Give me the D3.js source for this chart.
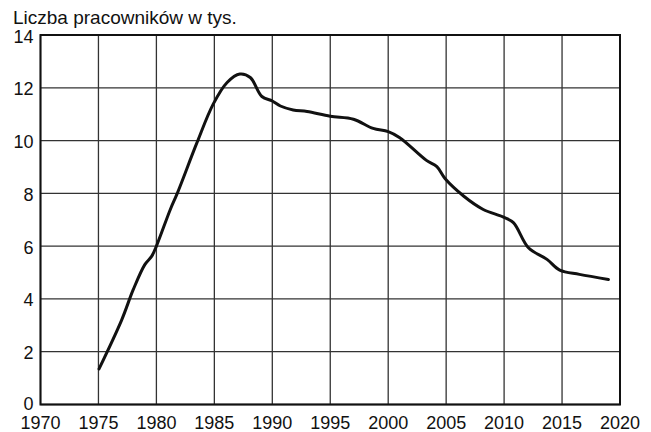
<!DOCTYPE html>
<html>
<head>
<meta charset="utf-8">
<script src="https://cdn.jsdelivr.net/npm/d3@7"></script>
<style>
  body { margin: 0; background: #fff; }
  text { font-family: "Liberation Sans", Arial, sans-serif; fill: #111; }
</style>
</head>
<body>
<svg id="chart" width="651" height="432"></svg>
<script>
var years = [1975.05, 1977, 1978, 1979, 1979.6, 1980, 1981.2, 1981.8, 1983.5, 1984.9, 1986.1, 1987.2, 1988.1, 1989.1, 1990, 1990.7, 1991.8, 1993, 1995, 1997, 1998.7, 2000, 2001, 2003.3, 2004.2, 2004.9, 2006.5, 2008.2, 2009.9, 2010.8, 2012.1, 2013.7, 2014.8, 2016.5, 2019];
var workers = [1.35, 3.2, 4.35, 5.3, 5.62, 6.0, 7.39, 8.0, 9.92, 11.38, 12.2, 12.52, 12.39, 11.67, 11.5, 11.31, 11.16, 11.1, 10.92, 10.81, 10.46, 10.34, 10.11, 9.25, 9.01, 8.56, 7.9, 7.39, 7.11, 6.89, 5.94, 5.5, 5.09, 4.93, 4.74];
var xTicks = [1970, 1975, 1980, 1985, 1990, 1995, 2000, 2005, 2010, 2015, 2020];
var yTicks = [0, 2, 4, 6, 8, 10, 12, 14];
var title = "Liczba pracowników w tys.";

var svg = d3.select("#chart"),
    margin = {left: 40.5, right: 31, top: 35, bottom: 27.5},
    width = 651 - margin.left - margin.right,
    height = 432 - margin.top - margin.bottom,
    g = svg.append("g").attr("transform", "translate(" + margin.left + "," + margin.top + ")");

var x = d3.scaleLinear().domain([1970, 2020]).range([0, width]);
var y = d3.scaleLinear().domain([0, 14]).range([height, 0]);

// grid
g.selectAll(".vgrid").data(xTicks).enter().append("line")
    .attr("x1", function (d) { return x(d); })
    .attr("x2", function (d) { return x(d); })
    .attr("y1", 0).attr("y2", height)
    .attr("stroke", "#333").attr("stroke-width", 1.3);

g.selectAll(".hgrid").data(yTicks).enter().append("line")
    .attr("y1", function (d) { return y(d); })
    .attr("y2", function (d) { return y(d); })
    .attr("x1", 0).attr("x2", width)
    .attr("stroke", "#333").attr("stroke-width", 1.3);

g.append("rect").attr("width", width).attr("height", height)
    .attr("fill", "none").attr("stroke", "#111").attr("stroke-width", 2);

// tick labels
g.selectAll(".xlab").data(xTicks).enter().append("text")
    .attr("x", function (d) { return x(d); })
    .attr("y", height + 24.5)
    .attr("text-anchor", "middle")
    .attr("font-size", 18)
    .text(function (d) { return d; });

// the 0 label sits a bit higher so it clears 1970
g.selectAll(".ylab").data(yTicks).enter().append("text")
    .attr("x", -7)
    .attr("y", function (d) { return y(d) + (d === 0 ? 5.5 : 7.5); })
    .attr("text-anchor", "end")
    .attr("font-size", 18)
    .text(function (d) { return d; });

svg.append("text").attr("x", 13).attr("y", 24)
    .attr("font-size", 19)
    .text(title);

// curve
var line = d3.line()
    .x(function (d, i) { return x(years[i]); })
    .y(function (d) { return y(d); })
    .curve(d3.curveCatmullRom.alpha(0.5));

g.append("path").datum(workers)
    .attr("d", line)
    .attr("fill", "none")
    .attr("stroke", "#111")
    .attr("stroke-width", 3)
    .attr("stroke-linecap", "round")
    .attr("stroke-linejoin", "round");
</script>
</body>
</html>
